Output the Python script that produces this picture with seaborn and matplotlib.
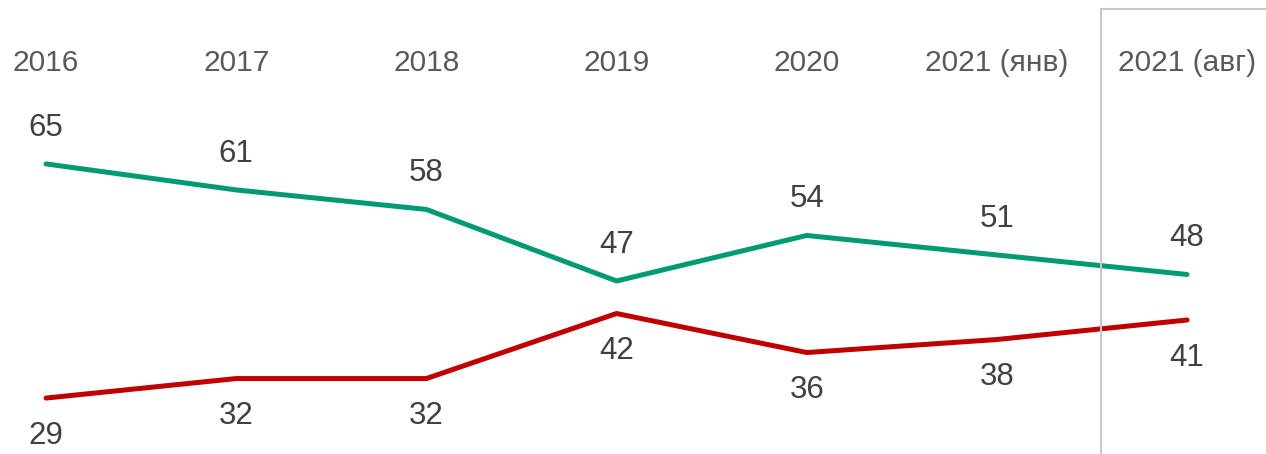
import numpy as np
import matplotlib
matplotlib.use("Agg")
import matplotlib.pyplot as plt
import seaborn as sns
import pandas as pd
from matplotlib.patches import Rectangle

years = ["2016", "2017", "2018", "2019", "2020", "2021 (янв)", "2021 (авг)"]
green_vals = [65, 61, 58, 47, 54, 51, 48]
red_vals = [29, 32, 32, 42, 36, 38, 41]

green = "#009B72"
red = "#C00000"

sns.set_theme(style="white")
plt.rcParams["font.family"] = ["Liberation Sans", "DejaVu Sans"]

df = pd.DataFrame({"idx": np.arange(len(years)), "green": green_vals, "red": red_vals})

fig = plt.figure(figsize=(12.66, 4.54), dpi=100)
ax = fig.add_axes([0, 0, 1, 1])

sns.lineplot(data=df, x="idx", y="green", color=green, linewidth=3.6, ax=ax,
             solid_capstyle="round")
sns.lineplot(data=df, x="idx", y="red", color=red, linewidth=3.6, ax=ax,
             solid_capstyle="round")

ax.set_xlim(-0.242, 6.415)
ax.set_ylim(20.4, 90.2)
ax.axis("off")

for i, v in enumerate(green_vals):
    ax.annotate(str(v), (i, v), xytext=(0, 26), textcoords="offset points",
                ha="center", va="center", fontsize=22.5, color="#404040")
for i, v in enumerate(red_vals):
    ax.annotate(str(v), (i, v), xytext=(0, -27), textcoords="offset points",
                ha="center", va="center", fontsize=22.5, color="#404040")

for i, y in enumerate(years):
    ax.text(i, 80.5, y, ha="center", va="center", fontsize=21.5, color="#595959")

# highlight box around last column
fig.patches.append(Rectangle((1101 / 1266, -0.1), 0.2, 1.1 - 9 / 454,
                             transform=fig.transFigure, fill=False,
                             edgecolor="#C8C8C8", linewidth=1.5, zorder=10))

fig.savefig("out.png", dpi=100)
